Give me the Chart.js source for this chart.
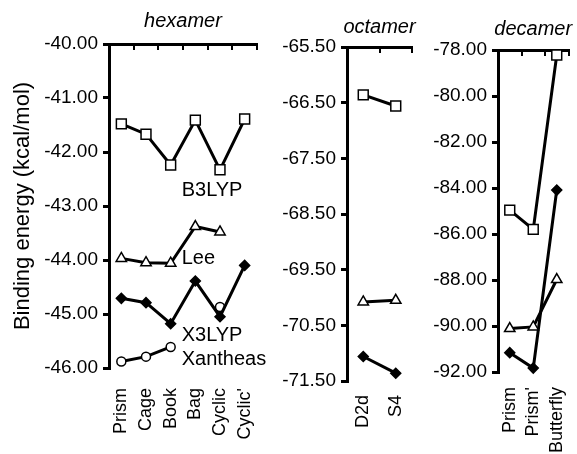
<!DOCTYPE html>
<html>
<head>
<meta charset="utf-8">
<script src="https://cdn.jsdelivr.net/npm/chart.js@4"></script>
<style>
  body { margin: 0; background: #fff; }
  #wrap { position: relative; width: 577px; height: 454px; }
  canvas { position: absolute; left: 0; top: 0; }
</style>
</head>
<body>
<div id="wrap">
  <canvas id="hexChart" width="577" height="454"></canvas>
  <canvas id="octChart" width="577" height="454"></canvas>
  <canvas id="decChart" width="577" height="454"></canvas>
</div>
<script>
'use strict';

// hexamer
let hexLabels = ['Prism', 'Cage', 'Book', 'Bag', 'Cyclic', "Cyclic'"];
let hexB3LYP = [-41.48, -41.67, -42.24, -41.41, -42.33, -41.39];
let hexLee = [-43.97, -44.05, -44.06, -43.38, -43.48, null];
let hexX3LYP = [-44.71, -44.79, -45.18, -44.39, -45.05, -44.10];
let hexXantheas = [-45.88, -45.79, -45.61, null, -44.87, null];
let hexTicks = [-40, -41, -42, -43, -44, -45, -46];

// octamer
let octLabels = ['D2d', 'S4'];
let octB3LYP = [-66.36, -66.56];
let octLee = [-70.08, -70.05];
let octX3LYP = [-71.06, -71.36];
let octTicks = [-65.5, -66.5, -67.5, -68.5, -69.5, -70.5, -71.5];

// decamer
let decLabels = ['Prism', "Prism'", 'Butterfly'];
let decB3LYP = [-84.96, -85.80, -78.22];
let decLee = [-90.11, -90.04, -87.98];
let decX3LYP = [-91.16, -91.83, -84.09];
let decTicks = [-78, -80, -82, -84, -86, -88, -90, -92];

let seriesNames = ['B3LYP', 'Lee', 'X3LYP', 'Xantheas'];
let hexNoteY = [-42.72, -43.98, -45.39, -45.85];

const FONT = '"Liberation Sans", Arial, sans-serif';
Chart.defaults.font.family = FONT;
Chart.defaults.color = '#000';

const panelText = {
  id: 'panelText',
  afterDraw(chart, args, o) {
    let c = chart.ctx;
    let a = chart.chartArea;
    c.save();
    c.fillStyle = '#000';
    c.font = 'italic 20px ' + FONT;
    c.textAlign = 'center';
    c.textBaseline = 'alphabetic';
    c.fillText(o.title, (a.left + a.right) / 2, o.titleY);
    if (o.notes) {
      c.font = '20px ' + FONT;
      c.textAlign = 'left';
      c.textBaseline = 'middle';
      let xs = chart.scales.x;
      let ys = chart.scales.y;
      for (let i = 0; i < o.notes.length; i++) {
        let n = o.notes[i];
        c.fillText(n.text, xs.getPixelForValue(n.at) + 11, ys.getPixelForValue(n.y));
      }
    }
    c.restore();
  }
};

function series(data, style, radius, fill) {
  return {
    data: data,
    borderColor: '#000',
    borderWidth: 3,
    pointStyle: style,
    pointRadius: radius,
    pointBorderWidth: 1.5,
    pointBorderColor: '#000',
    pointBackgroundColor: fill,
    tension: 0,
    clip: 10
  };
}

function makePanel(id, p) {
  let ctx = document.getElementById(id).getContext('2d');
  let yTitle = p.yTitle
    ? { display: true, text: p.yTitle, color: '#000', font: { size: 22 }, padding: { top: 10, bottom: 0 } }
    : { display: false };
  return new Chart(ctx, {
    type: 'line',
    data: {
      labels: p.labels,
      datasets: [
        series(p.b3lyp, 'rect', 7, '#fff'),
        series(p.lee, 'triangle', 6, '#fff'),
        series(p.x3lyp, 'rectRot', 5, '#000')
      ].concat(p.xantheas ? [series(p.xantheas, 'circle', 4.5, '#fff')] : [])
    },
    options: {
      responsive: false,
      animation: false,
      events: [],
      layout: { padding: { left: p.left - p.yWidth, right: 577 - p.right, top: p.top, bottom: 0 } },
      plugins: {
        legend: { display: false },
        tooltip: { enabled: false },
        panelText: { title: p.title, titleY: p.titleY, notes: p.notes }
      },
      scales: {
        x: {
          type: 'category',
          position: 'bottom',
          offset: true,
          grid: { display: false, drawTicks: false },
          border: { display: false },
          ticks: { autoSkip: false, minRotation: 90, maxRotation: 90, padding: p.labelPad, color: '#000', font: { size: 18 } },
          afterFit: s => {
            s.height = 454 - p.bottom;
            s.paddingLeft = 0;
            s.paddingRight = 0;
          }
        },
        xTop: {
          type: 'category',
          position: 'top',
          offset: true,
          grid: { offset: true, drawOnChartArea: false, tickLength: -6, lineWidth: 2, color: '#000' },
          border: { display: true, width: 3, color: '#000' },
          ticks: { display: false },
          afterFit: s => {
            s.height = 0;
            s.paddingLeft = 0;
            s.paddingRight = 0;
          }
        },
        y: {
          position: 'left',
          min: Math.min(...p.ticks),
          max: Math.max(...p.ticks),
          afterBuildTicks: s => { s.ticks = p.ticks.map(v => ({ value: v })); },
          grid: { drawOnChartArea: false, tickLength: 6, lineWidth: 3, color: '#000' },
          border: { width: 3, color: '#000' },
          ticks: { color: '#000', font: { size: 19 }, padding: 5, callback: v => v.toFixed(2) },
          title: yTitle,
          afterFit: s => {
            s.width = p.yWidth;
            s.paddingTop = 0;
            s.paddingBottom = 0;
          }
        }
      }
    },
    plugins: [panelText]
  });
}

makePanel('hexChart', {
  labels: hexLabels, b3lyp: hexB3LYP, lee: hexLee, x3lyp: hexX3LYP, xantheas: hexXantheas,
  ticks: hexTicks, title: 'hexamer', titleY: 27, yTitle: 'Binding energy (kcal/mol)',
  left: 109, right: 257, top: 44, bottom: 368, yWidth: 109, labelPad: 20,
  notes: seriesNames.map((n, i) => ({ text: n, at: 2, y: hexNoteY[i] }))
});

makePanel('octChart', {
  labels: octLabels, b3lyp: octB3LYP, lee: octLee, x3lyp: octX3LYP,
  ticks: octTicks, title: 'octamer', titleY: 33,
  left: 347, right: 412, top: 47, bottom: 381, yWidth: 70, labelPad: 14
});

makePanel('decChart', {
  labels: decLabels, b3lyp: decB3LYP, lee: decLee, x3lyp: decX3LYP,
  ticks: decTicks, title: 'decamer', titleY: 35,
  left: 498, right: 573, top: 50, bottom: 372, yWidth: 70, labelPad: 15
});
</script>
</body>
</html>
